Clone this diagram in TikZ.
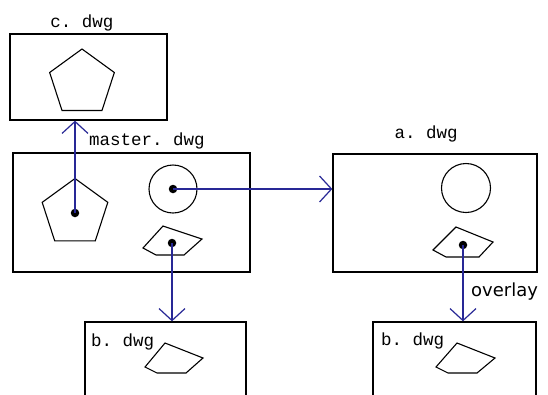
\documentclass[tikz,border=0pt]{standalone}
\usepackage{fontspec}
\setmonofont{Liberation Mono}
\newfontfamily\ovfont{DejaVu Sans}
\usetikzlibrary{arrows.meta,shapes.geometric}
\definecolor{navy}{RGB}{40,40,150}
\begin{document}
\begin{tikzpicture}[x=1pt,y=-1pt,
  box/.style={draw,line width=1.3pt,rectangle,inner sep=0pt},
  shp/.style={draw,line width=1.1pt},
  pent/.style={shp,regular polygon,regular polygon sides=5,inner sep=0pt},
  ring/.style={shp,circle,inner sep=0pt,minimum size=48pt},
  dotn/.style={circle,fill,inner sep=0pt,minimum size=8.5pt},
  link/.style={navy,line width=1.4pt,-{Straight Barb[length=12pt,width=26pt,line width=1.2pt]}},
  lbl/.style={font=\ttfamily\fontsize{17.5}{19}\selectfont,inner sep=0pt}]
\useasboundingbox (0,0) rectangle (548,394);
\clip (0,0) rectangle (548,394);
\fill[white] (0,0) rectangle (548,394);
% boxes
\node[box,minimum width=157pt,minimum height=86pt] (cbox) at (88.5,77) {};
\node[box,minimum width=237pt,minimum height=119pt] (mbox) at (131.5,212.5) {};
\node[box,minimum width=204pt,minimum height=118pt] (abox) at (435,213) {};
\node[box,minimum width=161pt,minimum height=98pt] (bboxl) at (165.5,371) {};
\node[box,minimum width=163pt,minimum height=98pt] (bboxr) at (454.5,371) {};
% labels
\node[lbl] (clbl) at (82,23) {c. dwg};
\node[lbl,anchor=west] (mlbl) at (89,141) {master. dwg};
\node[lbl] (albl) at (426,134) {a. dwg};
\node[lbl,anchor=west] (blbll) at (91,342) {b. dwg};
\node[lbl,anchor=west] (blblr) at (381,341) {b. dwg};
\node[font=\ovfont\fontsize{18}{20}\selectfont,anchor=west,inner sep=0pt] (ovl) at (471,292) {overlay};
% shapes
\node[pent,minimum size=68pt] (cpent) at (82,83) {};
\node[pent,minimum size=69pt] (mpent) at (75,213) {};
\node[ring] (mcirc) at (173,189) {};
\node[ring,minimum size=49pt] (acirc) at (466,188) {};
\draw[shp] (163,226) -- (202,239) -- (184,255) -- (156,255) -- (143,248) -- cycle;
\draw[shp] (456,227) -- (493,242) -- (479,257) -- (446,257) -- (433,250) -- cycle;
\draw[shp] (165,343) -- (203,358) -- (186,373) -- (157,373) -- (145,367) -- cycle;
\draw[shp] (457,343) -- (495,358) -- (477,373) -- (448,373) -- (436,367) -- cycle;
% dots
\node[dotn] (pdot) at (75,213) {};
\node[dotn] (cdot) at (173,189) {};
\node[dotn] (qdot) at (172,243) {};
\node[dotn] (adot) at (463,245) {};
% connectors
\draw[link] (pdot.center) -- (pdot |- cbox.south);
\draw[link] (cdot.center) -- (cdot -| abox.west);
\draw[link] (qdot.center) -- (qdot |- bboxl.north);
\draw[link] (adot.center) -- (adot |- bboxr.north);
\end{tikzpicture}
\end{document}
